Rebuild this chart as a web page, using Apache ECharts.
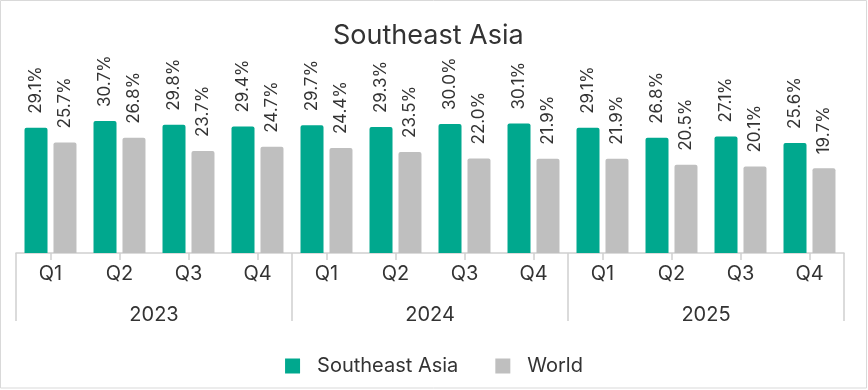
<!DOCTYPE html>
<html>
<head>
<meta charset="utf-8">
<script src="https://cdn.jsdelivr.net/npm/echarts@6/dist/echarts.min.js"></script>
<style>html,body{margin:0;padding:0;background:#fff}#c{width:868px;height:390px}</style>
</head>
<body>
<div id="c"></div>
<script>
const quarters = ['Q1','Q2','Q3','Q4','Q1','Q2','Q3','Q4','Q1','Q2','Q3','Q4'];
const years = ['2023','2024','2025'];
const seaValues = [29.1, 30.7, 29.8, 29.4, 29.7, 29.3, 30.0, 30.1, 29.1, 26.8, 27.1, 25.6];
const worldValues = [25.7, 26.8, 23.7, 24.7, 24.4, 23.5, 22.0, 21.9, 21.9, 20.5, 20.1, 19.7];
const seriesNames = ['Southeast Asia', 'World'];

const FONT = 'Inter';
const TXT = '#333333';
const AXIS = '#D0D0D0';
const chart = echarts.init(document.getElementById('c'));
const lbl = {
  show: true, position: 'top', distance: 14, rotate: 90, align: 'left', verticalAlign: 'middle',
  color: TXT, fontFamily: FONT, fontSize: 17,
  formatter: p => p.value.toFixed(1) + '%'
};
chart.setOption({
  animation: false,
  title: { text: 'Southeast Asia', left: 328, top: 17,
    textStyle: { fontFamily: FONT, fontSize: 27, fontWeight: 'normal', color: TXT } },
  legend: { bottom: 9, left: 'center', itemWidth: 15, itemHeight: 15, itemGap: 37, icon: 'rect',
    textStyle: { fontFamily: FONT, fontSize: 20, color: TXT, padding: [0,0,0,12] },
    data: seriesNames },
  grid: { left: 16, right: 24, top: 81, bottom: 137 },
  graphic: [{ type: 'rect', shape: { x: 0.5, y: 0.5, width: 866, height: 387.5 },
    style: { fill: 'none', stroke: '#D9D9D9', lineWidth: 1 }, silent: true }],
  xAxis: [
    { type: 'category', data: quarters, position: 'bottom',
      axisLine: { show: true, lineStyle: { color: AXIS, width: 1.5 } },
      axisTick: { show: true, alignWithLabel: true, length: 7, lineStyle: { color: AXIS, width: 1.5 } },
      axisLabel: { color: TXT, fontFamily: FONT, fontSize: 20, margin: 11, interval: 0 } },
    { type: 'category', data: years, position: 'bottom',
      axisLine: { show: false },
      axisTick: { show: true, length: 68, interval: 0, lineStyle: { color: AXIS, width: 1.5 } },
      axisLabel: { color: TXT, fontFamily: FONT, fontSize: 20, margin: 52, interval: 0 } }
  ],
  yAxis: { type: 'value', min: 0, max: 40, show: false, splitLine: { show: false } },
  series: [
    { name: seriesNames[0], type: 'bar', data: seaValues, xAxisIndex: 0,
      barWidth: 23, barGap: '26%', itemStyle: { color: '#00A88E', borderRadius: [2,2,0,0] }, label: lbl },
    { name: seriesNames[1], type: 'bar', data: worldValues, xAxisIndex: 0,
      barWidth: 23, itemStyle: { color: '#BFBFBF', borderRadius: [2,2,0,0] }, label: lbl }
  ]
});
</script>
</body>
</html>
